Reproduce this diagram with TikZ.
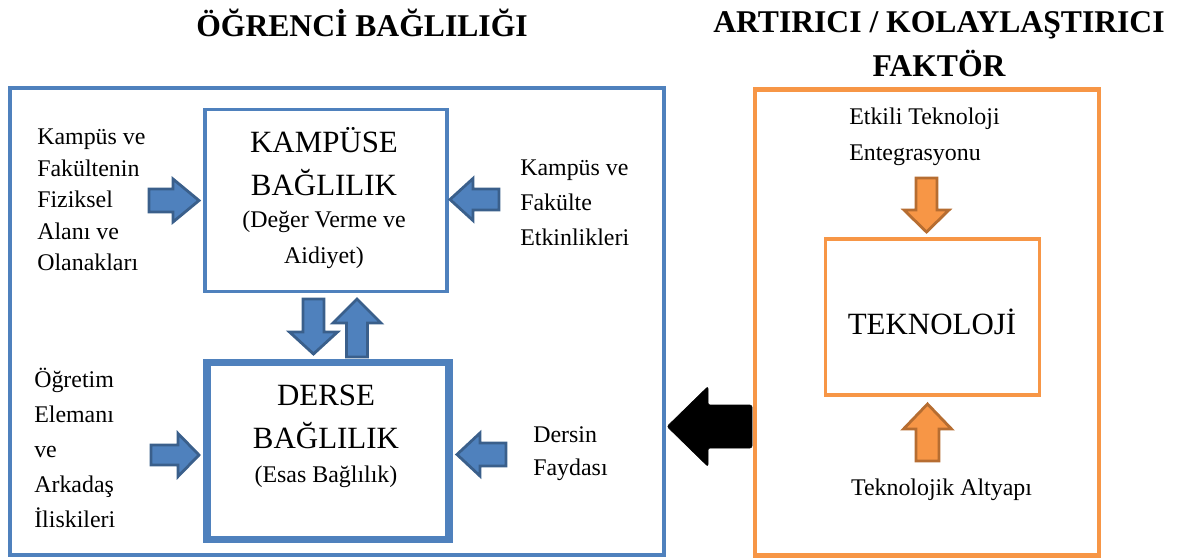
\documentclass[tikz,border=0pt]{standalone}
\usepackage{fontspec}
\setmainfont{Liberation Serif}
\usetikzlibrary{calc}

\definecolor{bblue}{HTML}{4F81BD}
\definecolor{dblue}{HTML}{3A5F8B}
\definecolor{borange}{HTML}{F79646}
\definecolor{dorange}{HTML}{B66D31}

\tikzset{
 bluebox/.style={draw=bblue, line width=2.8pt, inner sep=0pt},
 orangebox/.style={draw=borange, line width=2.8pt, inner sep=0pt},
 barr/.style={fill=bblue, draw=dblue, line width=2pt},
 oarr/.style={fill=borange, draw=dorange, line width=2pt},
 bodytxt/.style={inner sep=0pt, anchor=west, align=left},
 headtxt/.style={inner sep=0pt, align=center, font=\fontsize{22.5}{31}\selectfont\bfseries},
}

\newcommand{\blockarr}[8]{%
 \draw[#1, shift={(#2,#3)}, rotate=#4]
  (-#5/2,-#6) -- (#5/2-#8,-#6) -- (#5/2-#8,-#7) -- (#5/2,0)
  -- (#5/2-#8,#7) -- (#5/2-#8,#6) -- (-#5/2,#6) -- cycle;}

\begin{document}
\begin{tikzpicture}[x=0.025cm, y=-0.025cm]
\useasboundingbox (0,0) rectangle (1184,558);

\node[headtxt] (tbag) at (362,23) {ÖĞRENCİ BAĞLILIĞI};
\node[headtxt] (tfak) at (939,44) {ARTIRICI / KOLAYLAŞTIRICI\\FAKTÖR};

\node[bluebox, line width=3.5pt, minimum width=654*0.025cm, minimum height=467*0.025cm] (outb) at (337,321.5) {};
\node[orangebox, line width=3.5pt, minimum width=344*0.025cm, minimum height=466*0.025cm] (outo) at (927,322.5) {};

\node[bluebox, minimum width=241.5*0.025cm, minimum height=182*0.025cm] (kamp) at (326,200.5) {};
\node[bluebox, line width=5pt, minimum width=242*0.025cm, minimum height=176.5*0.025cm] (ders) at (328,451) {};
\node[orangebox, minimum width=214*0.025cm, minimum height=155.5*0.025cm] (tekb) at (932.5,317) {};

\node[inner sep=0pt, align=center, font=\fontsize{22}{30.5}\selectfont] (kampt) at (324,162) {KAMPÜSE\\BAĞLILIK};
\node[inner sep=0pt, align=center, font=\fontsize{17}{25.5}\selectfont] (kamps) at (324,240) {(Değer Verme ve\\Aidiyet)};
\node[inner sep=0pt, align=center, font=\fontsize{22}{30.5}\selectfont] (derst) at (326,417) {DERSE\\BAĞLILIK};
\node[inner sep=0pt, align=center, font=\fontsize{17}{25.5}\selectfont] (derss) at (326,477) {(Esas Bağlılık)};
\node[inner sep=0pt, font=\fontsize{22}{30.5}\selectfont] (tekt) at (932,322) {TEKNOLOJİ};

\node[bodytxt, font=\fontsize{17}{22.3}\selectfont] (fiz) at (37,200) {Kampüs ve\\Fakültenin\\Fiziksel\\Alanı ve\\Olanakları};
\node[bodytxt, font=\fontsize{17}{25}\selectfont] (etk) at (520,203) {Kampüs ve\\Fakülte\\Etkinlikleri};
\node[bodytxt, font=\fontsize{17}{24.8}\selectfont] (ark) at (34,448) {Öğretim\\Elemanı\\ve\\Arkadaş\\İliskileri};
\node[bodytxt, font=\fontsize{17}{23.4}\selectfont] (fay) at (533,454) {Dersin\\Faydası};
\node[bodytxt, font=\fontsize{17}{25.5}\selectfont] (ent) at (849,137) {Etkili Teknoloji\\Entegrasyonu};
\node[inner sep=0pt, font=\fontsize{17}{22}\selectfont] (alt) at (941.5,490) {Teknolojik Altyapı};

\foreach \cx/\cy/\ang/\len/\sh/\hh/\hl in {174/200.5/0/50/11.5/21.5/26, 474.5/199.5/180/49/10.5/21/23,
  175/455/0/48/10/21.5/21, 481.5/454.5/180/49/11.5/21.5/23,
  313.5/326.5/270/55/10.5/24/22, 357/328/90/58/10.5/24/24}
 \blockarr{barr}{\cx}{\cy}{\ang}{\len}{\sh}{\hh}{\hl};

\blockarr{oarr}{926.5}{205}{270}{54}{10.5}{22.5}{22}
\blockarr{oarr}{927.5}{432.5}{90}{57}{11.5}{24}{25}

\blockarr{fill=black, rounded corners=1.5pt}{709.5}{426.5}{180}{85}{21.5}{40}{41}
\end{tikzpicture}
\end{document}
